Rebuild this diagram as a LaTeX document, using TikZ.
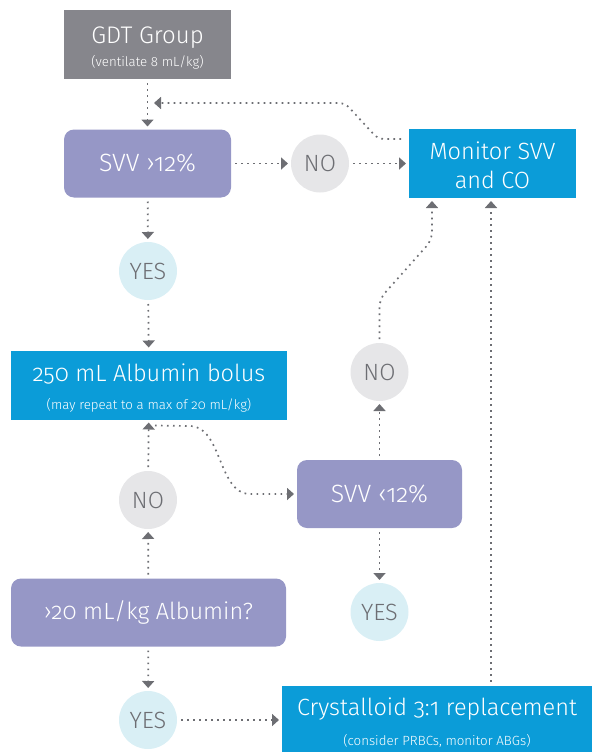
\documentclass[tikz,border=0pt]{standalone}
\usepackage{fontspec}
\setmainfont{Fira Sans}[UprightFont=* Light, Numbers=OldStyle]
\usepackage{tikz, tkz-graph}
\usetikzlibrary{arrows.meta}
\definecolor{gdtgray}{HTML}{86868C}
\definecolor{svvpurple}{HTML}{9697C6}
\definecolor{monblue}{HTML}{0B9CD8}
\definecolor{nogray}{HTML}{E6E6E8}
\definecolor{yescyan}{HTML}{D9EFF5}
\definecolor{dotgray}{HTML}{6D6E73}
\newcommand{\sublbl}[1]{{\fontsize{13.3}{15}\selectfont #1}}
\newcommand{\toprule}[1]{\rule{0pt}{#1pt}}

\begin{document}
\begin{tikzpicture}[x=1pt, y=-1pt]
\tikzset{EdgeStyle/.style = {-{Triangle[width=12pt,length=7pt]}, dotgray, line width=1.7pt, dash pattern=on 1.7pt off 4.3pt, shorten <=4pt, shorten >=3pt}}
\tikzset{LabelStyle/.style = {}}
	\useasboundingbox (0,0) rectangle (592,752);

	\tikzset{VertexStyle/.style = {shape=rectangle, fill=gdtgray, text=white, minimum width=167pt, minimum height=69pt, inner sep=0pt, align=center, font=\fontsize{24}{28}\selectfont}}
	\Vertex[x=147.5, y=44.5, L={\toprule{23}GDT Group\\[-5pt]\sublbl{(ventilate 8 mL/kg)}}]{gdt}

	\tikzset{VertexStyle/.style = {shape=rectangle, fill=monblue, text=white, minimum height=69pt, inner sep=0pt, align=center, font=\fontsize{23.5}{28}\selectfont}}
	\Vertex[x=492.5, y=163.5, L={\toprule{22}Monitor SVV\\[1pt]and CO}, style={minimum width=167pt}]{mon}
	\Vertex[x=149, y=385, L={\toprule{23.5}250 mL Albumin bolus\\\sublbl{(may repeat to a max of 20 mL/kg)}}, style={minimum width=276pt, minimum height=70pt}]{alb}
	\Vertex[x=437, y=720, L={\toprule{23}Crystalloid 3:1 replacement\\[2pt]\sublbl{(consider PRBCs, monitor ABGs)}}, style={minimum width=310pt, minimum height=70pt}]{cry}

	\tikzset{VertexStyle/.style = {shape=rectangle, rounded corners=10pt, fill=svvpurple, text=white, minimum height=68pt, inner sep=0pt, align=center, font=\fontsize{23.5}{28}\selectfont}}
	\Vertex[x=147.5, y=163.5, L={\fontsize{25}{28}\selectfont SVV ›12\%}, style={minimum width=167pt}]{s1}
	\Vertex[x=379.5, y=494, L={\fontsize{25}{28}\selectfont SVV ‹12\%}, style={minimum width=165pt}]{s2}
	\Vertex[x=148.5, y=612.5, L={›20 mL/kg Albumin?}, style={minimum width=275pt}]{q1}

	\tikzset{VertexStyle/.style = {shape=circle, fill=nogray, text=dotgray, minimum size=58pt, inner sep=0pt, font=\fontsize{23.5}{26}\selectfont}}
	\Vertex[x=320, y=163.5, L={NO}]{no1}
	\Vertex[x=148, y=500, L={NO}]{no2}
	\Vertex[x=379.5, y=372, L={NO}]{no3}

	\tikzset{VertexStyle/.style = {shape=circle, fill=yescyan, text=dotgray, minimum size=58pt, inner sep=0pt, font=\fontsize{23.5}{26}\selectfont}}
	\Vertex[x=148, y=271, L={YES}]{yes1}
	\Vertex[x=379.5, y=612, L={YES}]{yes2}
	\Vertex[x=148, y=720, L={YES}]{yes3}

	\Edge(gdt)(s1)
	\Edge[style={-}](s1)(no1)
	\Edge(no1)(mon)
	\Edge[style={-}](s1)(yes1)
	\Edge(yes1)(alb)
	\Edge(q1)(no2)
	\Edge(no2)(alb)
	\Edge(s2)(no3)
	\Edge(s2)(yes2)
	\Edge(q1)(yes3)
	\Edge(yes3)(cry)

	% loops back to the top
	\coordinate (jn) at (148,103);
	\draw[EdgeStyle, shorten >=6pt, rounded corners=6pt] ([shift={(-4,10)}]mon.north west) -- (378,139) -- (345,103) -- (jn);
	\draw[EdgeStyle, rounded corners=8pt] (no3.north) -- ++(0,-44) -- ([xshift=-60.5pt, yshift=-42pt]mon.south) -- ([xshift=-60.5pt]mon.south);
	\coordinate (c1) at ([xshift=54pt]cry.north);
	\draw[EdgeStyle] (c1) -- (c1 |- mon.south);
	\draw[EdgeStyle, shorten <=0pt] ([shift={(6,6)}]alb.south) -- (190,426) .. controls (222,426) and (218,494) .. (250,494) -- (s2.west);

\end{tikzpicture}
\end{document}
